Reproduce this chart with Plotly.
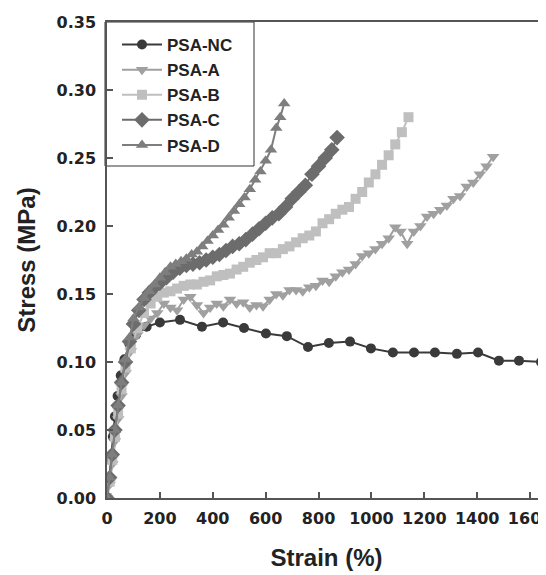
import plotly.graph_objects as go

nc_x = [0, 8, 15, 22, 30, 40, 52, 66, 85, 110, 150, 200, 276, 359, 439, 518, 601, 680, 760, 839, 919, 998, 1081, 1161, 1240, 1323, 1403, 1482, 1558, 1641]
nc_y = [0, 0.012, 0.028, 0.045, 0.060, 0.075, 0.090, 0.102, 0.113, 0.120, 0.126, 0.129, 0.131, 0.126, 0.129, 0.125, 0.121, 0.119, 0.111, 0.114, 0.115, 0.110, 0.107, 0.107, 0.107, 0.106, 0.107, 0.101, 0.101, 0.100]

a_x = [0, 10, 20, 30, 42, 55, 70, 90, 115, 140, 165, 190, 215, 240, 265, 290, 315, 340, 365, 390,
       415, 440, 465, 490, 515, 540, 565, 590, 615, 640, 665, 690, 715, 740, 765, 790, 815, 840, 865, 890,
       915, 940, 965, 990, 1015, 1040, 1065, 1090, 1110, 1135, 1160, 1185, 1210, 1235, 1260, 1285, 1310, 1335,
       1360, 1385, 1410, 1435, 1460]
a_y = [0, 0.010, 0.025, 0.042, 0.058, 0.075, 0.092, 0.108, 0.120, 0.127, 0.132, 0.136, 0.143, 0.140, 0.138, 0.146, 0.148, 0.142, 0.136, 0.140,
       0.143, 0.141, 0.146, 0.143, 0.144, 0.140, 0.142, 0.141, 0.146, 0.150, 0.149, 0.153, 0.153, 0.152, 0.155, 0.156, 0.160, 0.159, 0.163, 0.166,
       0.168, 0.172, 0.178, 0.180, 0.183, 0.187, 0.191, 0.199, 0.196, 0.187, 0.196, 0.200, 0.207, 0.209, 0.212, 0.215, 0.220, 0.222,
       0.229, 0.232, 0.238, 0.244, 0.251]

b_x = [0, 10, 20, 30, 42, 55, 70, 90, 115, 140, 165, 190, 215, 240, 265, 290, 315, 340, 365, 390,
       415, 440, 465, 490, 515, 540, 565, 590, 615, 640, 665, 690, 715, 740, 765, 790, 815, 840, 865, 890,
       915, 940, 965, 990, 1015, 1040, 1065, 1090, 1115, 1140]
b_y = [0, 0.012, 0.028, 0.045, 0.062, 0.080, 0.096, 0.110, 0.125, 0.136, 0.143, 0.148, 0.151, 0.152, 0.154, 0.156, 0.157, 0.157, 0.159, 0.160,
       0.163, 0.164, 0.165, 0.168, 0.170, 0.173, 0.175, 0.177, 0.180, 0.180, 0.183, 0.185, 0.188, 0.191, 0.193, 0.196, 0.202, 0.205, 0.209, 0.212,
       0.214, 0.220, 0.225, 0.232, 0.238, 0.245, 0.252, 0.260, 0.269, 0.280]

c_x = [0, 10, 20, 30, 42, 55, 70, 85, 100, 120, 140, 160, 180, 200, 225, 250, 275, 300, 325, 350,
       375, 400, 425, 450, 475, 500, 525, 550, 575, 600, 625, 650, 675, 700, 725, 750, 775, 800, 825, 850, 870]
c_y = [0, 0.015, 0.032, 0.050, 0.068, 0.085, 0.100, 0.115, 0.128, 0.138, 0.146, 0.151, 0.155, 0.158, 0.162, 0.166, 0.169, 0.171, 0.172, 0.173,
       0.175, 0.177, 0.179, 0.182, 0.185, 0.187, 0.190, 0.194, 0.198, 0.202, 0.206, 0.209, 0.214, 0.220, 0.225, 0.230, 0.238, 0.244, 0.250, 0.256, 0.265]

d_x = [0, 10, 20, 30, 42, 55, 70, 85, 100, 120, 140, 160, 180, 200, 220, 240, 260, 280, 300, 320,
       340, 360, 380, 400, 420, 440, 460, 480, 500, 520, 540, 560, 580, 600, 620, 640, 655, 670]
d_y = [0, 0.015, 0.032, 0.050, 0.068, 0.085, 0.102, 0.118, 0.132, 0.140, 0.147, 0.152, 0.157, 0.162, 0.166, 0.170, 0.172, 0.174, 0.176, 0.179,
       0.181, 0.185, 0.189, 0.193, 0.197, 0.201, 0.206, 0.211, 0.216, 0.221, 0.227, 0.234, 0.240, 0.248, 0.256, 0.272, 0.280, 0.290]

x_ticks = [0, 200, 400, 600, 800, 1000, 1200, 1400, 1600]
y_ticks = [0.00, 0.05, 0.10, 0.15, 0.20, 0.25, 0.30, 0.35]

series = [
    ("PSA-NC", nc_x, nc_y, "#3a3a3a", "circle", 10),
    ("PSA-A", a_x, a_y, "#a0a0a0", "triangle-down", 11),
    ("PSA-B", b_x, b_y, "#bfbfbf", "square", 10),
    ("PSA-C", c_x, c_y, "#6c6c6c", "diamond", 12),
    ("PSA-D", d_x, d_y, "#7e7e7e", "triangle-up", 11),
]

fig = go.Figure()
for name, xs, ys, col, sym, sz in series:
    fig.add_trace(go.Scatter(
        x=xs, y=ys, name=name, mode="lines+markers",
        line=dict(color=col, width=2),
        marker=dict(color=col, symbol=sym, size=sz, line=dict(width=0)),
    ))

# page body has an 8px margin; compensate so the plot sits where the reference has it
OFF = 8
W, H = 546 - OFF, 575 - OFF
ML, MR, MT, MB = 107 - OFF, 0, 22 - OFF, 77
PW, PH = W - ML - MR, H - MT - MB

def px_x(p):  # screen pixel -> paper fraction
    return (p - OFF - ML) / PW

def px_y(p):
    return (H - MB - (p - OFF)) / PH

axis_font = dict(family="DejaVu Sans", size=16, color="#222222", weight="bold")
title_font = dict(family="Liberation Sans, Arial", size=24, color="#222222", weight="bold")

fig.update_layout(
    width=W, height=H,
    margin=dict(l=ML, r=MR, t=MT, b=MB),
    paper_bgcolor="white", plot_bgcolor="white",
    showlegend=True,
    legend=dict(
        x=px_x(117), y=px_y(27), xanchor="left", yanchor="top",
        bgcolor="rgba(0,0,0,0)", borderwidth=0,
        font=dict(family="Liberation Sans, Arial", size=17, color="#222222", weight="bold"),
        itemwidth=40,
    ),
    shapes=[dict(
        type="rect", xref="paper", yref="paper",
        x0=px_x(105), x1=px_x(254), y0=px_y(166), y1=px_y(22),
        line=dict(color="#333333", width=1), fillcolor="white", layer="below",
    )],
    xaxis=dict(
        range=[0, 1660], tickvals=x_ticks, ticktext=[str(v) for v in x_ticks],
        automargin=False, ticklabeloverflow="allow",
        showgrid=False, zeroline=False, showline=True, linecolor="#555555", linewidth=1.5,
        mirror=True, ticks="inside", ticklen=6, tickcolor="#555555", tickwidth=1.5,
        tickfont=axis_font, ticklabelstandoff=5,
        title=dict(text="Strain (%)", font=title_font, standoff=22),
    ),
    yaxis=dict(
        range=[0, 0.35], tickvals=y_ticks, tickformat=".2f",
        automargin=False, ticklabeloverflow="allow",
        showgrid=False, zeroline=False, showline=True, linecolor="#555555", linewidth=1.5,
        ticks="inside", ticklen=6, tickcolor="#555555", tickwidth=1.5,
        tickfont=axis_font, ticklabelstandoff=6,
        title=dict(text="Stress (MPa)", font=title_font, standoff=14),
    ),
)

fig.write_html("out.html")
